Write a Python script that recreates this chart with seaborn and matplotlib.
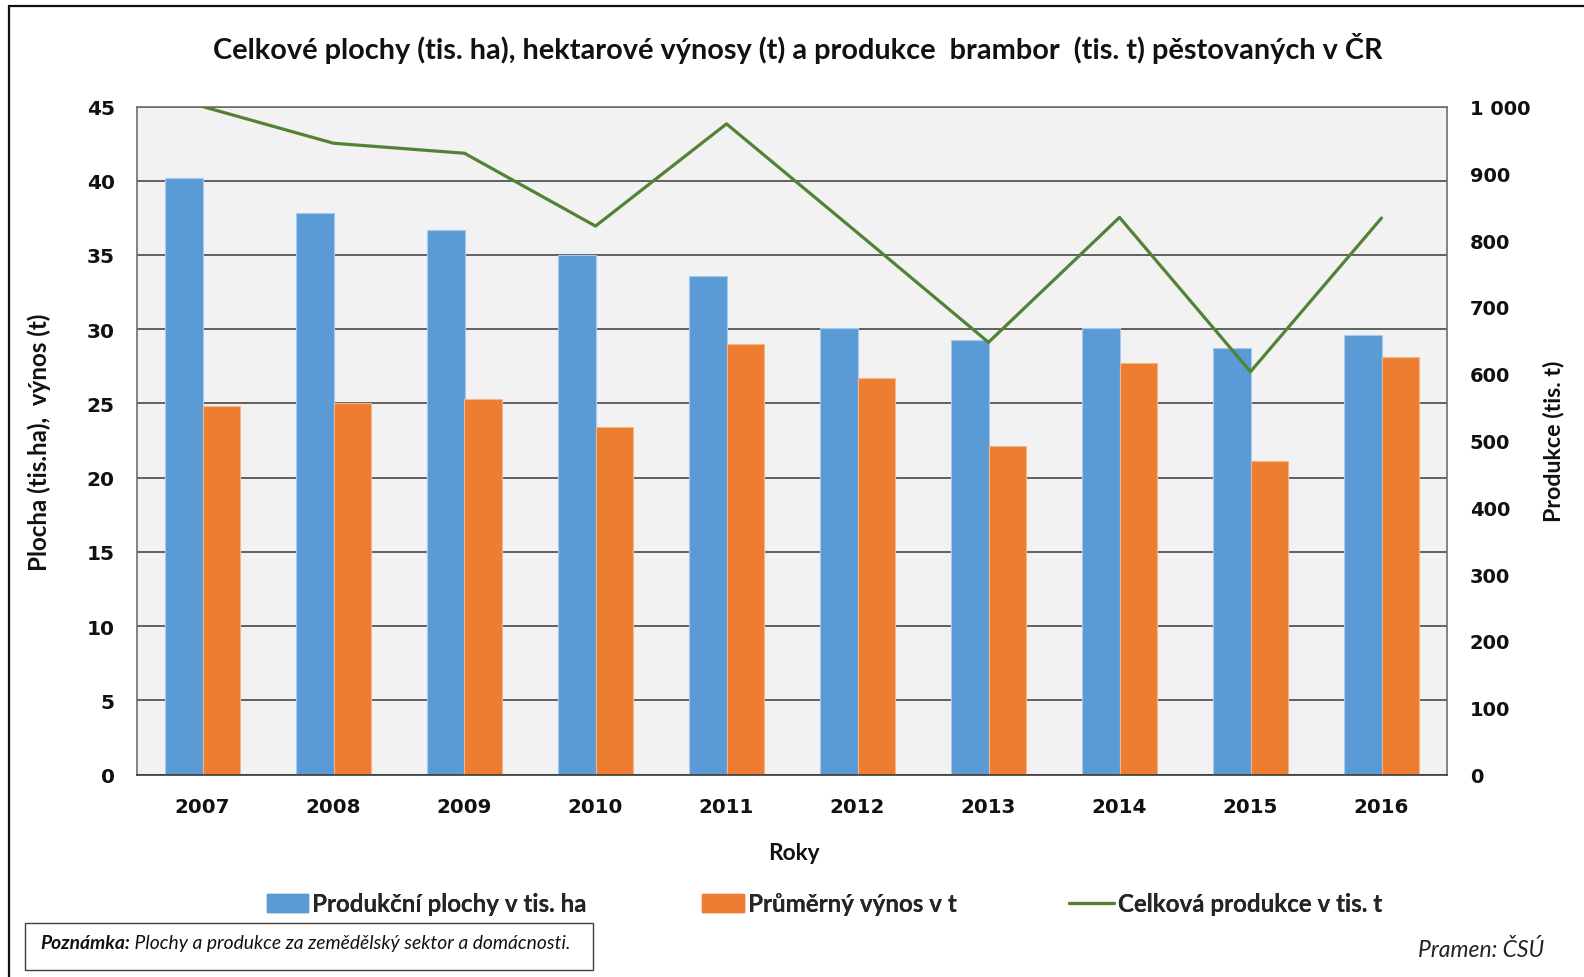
import numpy as np
import pandas as pd
import matplotlib
matplotlib.use("Agg")
import matplotlib.pyplot as plt
from matplotlib import font_manager
from matplotlib.lines import Line2D
from matplotlib.patches import Patch, Rectangle
import seaborn as sns

# ---------------- data ----------------
years = ["2007", "2008", "2009", "2010", "2011", "2012", "2013", "2014", "2015", "2016"]
plochy = [40.2, 37.8, 36.7, 35.0, 33.6, 30.1, 29.3, 30.1, 28.7, 29.6]
vynos = [24.8, 25.0, 25.3, 23.4, 29.0, 26.7, 22.1, 27.7, 21.1, 28.1]
produkce = [1000, 945, 930, 821, 974, 811, 647, 834, 603, 833]
left_ticks = [0, 5, 10, 15, 20, 25, 30, 35, 40, 45]
right_ticks = [0, 100, 200, 300, 400, 500, 600, 700, 800, 900, 1000]
series_names = ["Produkční plochy v tis. ha", "Průměrný výnos v t", "Celková produkce v tis. t"]

title = "Celkové plochy (tis. ha), hektarové výnosy (t) a produkce  brambor  (tis. t) pěstovaných v ČR"
ylabel_left = "Plocha (tis.ha),  výnos (t)"
ylabel_right = "Produkce (tis. t)"
xlabel = "Roky"
note_bold = "Poznámka:"
note_rest = " Plochy a produkce za zemědělský sektor a domácnosti."
source = "Pramen: ČSÚ"

BLUE = "#5B9BD5"
ORANGE = "#ED7D31"
GREEN = "#548235"

sns.set_theme(style="white")
plt.rcParams["font.family"] = ["DejaVu Sans"]

available = {f.name for f in font_manager.fontManager.ttflist}
CAL = "DejaVu Sans"
for cand in ["Lato", "Open Sans"]:
    if cand in available:
        CAL = cand
        break
CALF = [CAL, "DejaVu Sans"]

W, H = 1584, 978
fig = plt.figure(figsize=(W / 100, H / 100), dpi=100)
fig.patch.set_facecolor("white")

def fx(px):
    return px / W

def fy(py):
    return 1 - py / H

ax = fig.add_axes([fx(137), fy(775.5), fx(1447) - fx(137), (775.5 - 107.5) / H])
ax.set_facecolor("#F2F2F2")

df = pd.DataFrame({
    "rok": years * 2,
    "serie": [series_names[0]] * len(years) + [series_names[1]] * len(years),
    "hodnota": plochy + vynos,
})
sns.barplot(data=df, x="rok", y="hodnota", hue="serie", order=years,
            hue_order=series_names[:2], palette=[BLUE, ORANGE], width=0.572,
            ax=ax, legend=False, saturation=1)
for i, p in enumerate(ax.patches):
    p.set_edgecolor("#A9C9EA" if i < len(years) else "#F5B48A")
    p.set_linewidth(0.8)

ax.set_ylim(0, 45)
ax.set_xlim(-0.5, len(years) - 0.5)
ax.set_yticks(left_ticks)
ax.set_yticklabels([str(v) for v in left_ticks])
ax.yaxis.grid(True, color="#3A3A3A", linewidth=1.1)
ax.set_axisbelow(True)
ax.tick_params(axis="both", length=0)
ax.tick_params(axis="y", pad=16)
ax.tick_params(axis="x", pad=16)
for lab in ax.get_yticklabels():
    lab.set_fontweight("bold")
    lab.set_fontsize(14.5)
    lab.set_color("#111111")
for lab in ax.get_xticklabels():
    lab.set_fontweight("bold")
    lab.set_fontsize(14.3)
    lab.set_color("#111111")
ax.set_xlabel("")
ax.set_ylabel("")
for s in ["top", "right", "left"]:
    ax.spines[s].set_color("#6E6E6E")
    ax.spines[s].set_linewidth(1.2)
ax.spines["bottom"].set_color("#3A3A3A")
ax.spines["bottom"].set_linewidth(1.2)

ax2 = ax.twinx()
sns.lineplot(x=np.arange(len(years)), y=produkce, ax=ax2, color=GREEN,
             linewidth=2.3, legend=False)
ax2.set_ylim(0, 1000)
ax2.set_yticks(right_ticks)
ax2.set_yticklabels([f"{v:,}".replace(",", " ") for v in right_ticks])
ax2.tick_params(axis="y", length=0, pad=16.5)
for lab in ax2.get_yticklabels():
    lab.set_fontweight("bold")
    lab.set_fontsize(14)
    lab.set_color("#111111")
ax2.grid(False)
ax2.set_ylabel("")
for s in ax2.spines.values():
    s.set_visible(False)

renderer = fig.canvas.get_renderer()

def fit(t, target, vertical=False):
    bb = t.get_window_extent(renderer)
    w = bb.height if vertical else bb.width
    t.set_fontsize(t.get_fontsize() * target / w)

# title and labels
t = fig.text(fx(798), fy(48.5), title, ha="center", va="center",
             fontweight="bold", family=CALF, fontsize=16, color="#111111")
fit(t, 1171)
t = fig.text(fx(39), fy(442), ylabel_left, ha="center", va="center", rotation=90,
             fontweight="bold", family=CALF, fontsize=15, color="#111111")
fit(t, 258, vertical=True)
t = fig.text(fx(1554), fy(441), ylabel_right, ha="center", va="center", rotation=90,
             fontweight="bold", family=CALF, fontsize=15, color="#111111")
fit(t, 163, vertical=True)
t = fig.text(fx(794), fy(854), xlabel, ha="center", va="center",
             fontweight="bold", family=CALF, fontsize=15, color="#111111")
fit(t, 52)

# legend (three entries positioned like the reference)
tmp = fig.text(0, 0, series_names[0], fontweight="bold", family=CALF, fontsize=15)
fit(tmp, 276)
lfs = tmp.get_fontsize()
tmp.remove()
em = lfs * 100 / 72
handles = [Patch(facecolor=BLUE, edgecolor=BLUE),
           Patch(facecolor=ORANGE, edgecolor=ORANGE),
           Line2D([0], [0], color=GREEN, linewidth=2.3)]
starts = [267, 702, 1069]
hlens = [41, 42, 45]
for h, name, x0, hl in zip(handles, series_names, starts, hlens):
    leg = fig.legend(handles=[h], labels=[name], loc="center left",
                     bbox_to_anchor=(fx(x0), fy(905)), frameon=False,
                     borderpad=0, borderaxespad=0, handlelength=hl / em,
                     handleheight=0.75, handletextpad=4 / em,
                     prop={"family": CALF, "weight": "bold", "size": lfs})
    fig.add_artist(leg)

# note box
fig.add_artist(Rectangle((fx(25), fy(971)), fx(593) - fx(25), (971 - 924) / H,
                         transform=fig.transFigure, facecolor="none",
                         edgecolor="#404040", linewidth=1.0))
nb = fig.text(fx(40), fy(943.5), note_bold, ha="left", va="center",
              fontweight="bold", fontstyle="italic", family=CALF, fontsize=12,
              color="#111111")
nr = fig.text(fx(40), fy(943.5), note_rest, ha="left", va="center",
              fontstyle="italic", family=CALF, fontsize=12, color="#111111")
wb = nb.get_window_extent(renderer).width
wr = nr.get_window_extent(renderer).width
scale = 528 / (wb + wr)
nb.set_fontsize(12 * scale)
nr.set_fontsize(12 * scale)
wb = nb.get_window_extent(renderer).width
nr.set_position((fx(40 + wb), fy(943.5)))

src = fig.text(fx(1418), fy(950), source, ha="left", va="center",
               fontstyle="italic", family=CALF, fontsize=13, color="#222222")
fit(src, 126)

# outer frame (top and left edges visible)
fig.add_artist(Line2D([fx(9), fx(9)], [fy(7), 0], transform=fig.transFigure,
                      color="#111111", linewidth=1.6))
fig.add_artist(Line2D([fx(9), 1], [fy(7), fy(7)], transform=fig.transFigure,
                      color="#111111", linewidth=1.6))

fig.savefig("out.png", dpi=100)
